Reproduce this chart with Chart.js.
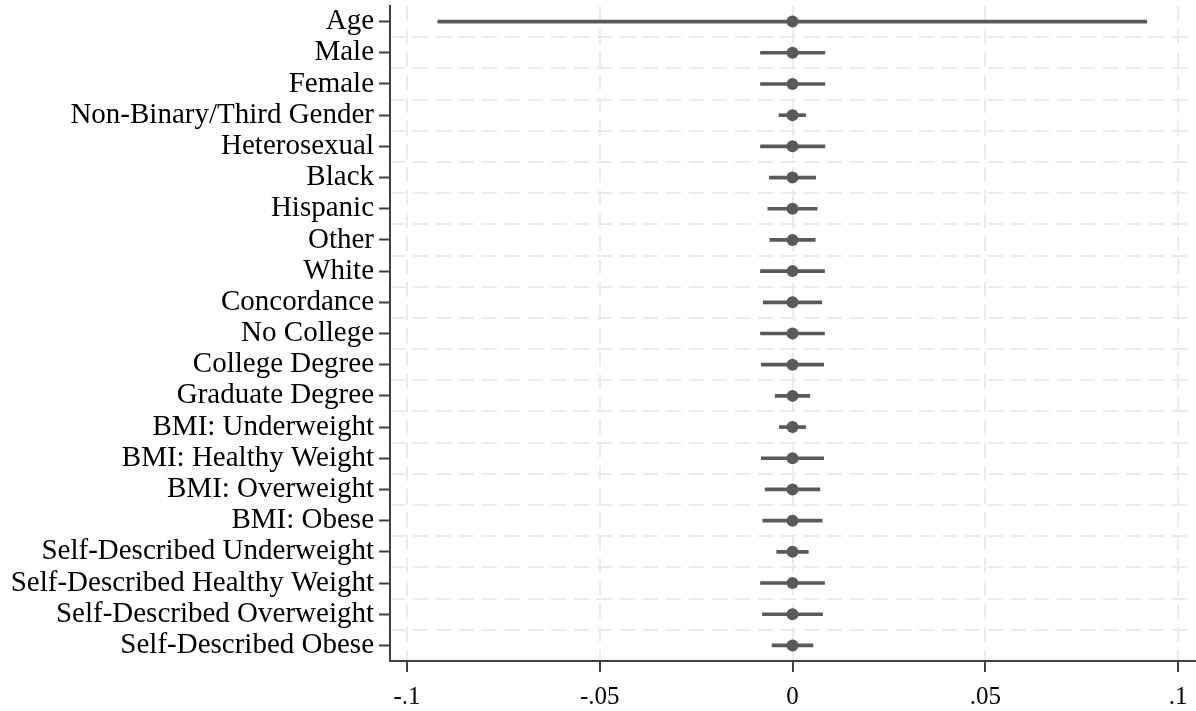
<!DOCTYPE html>
<html>
<head>
<meta charset="utf-8">
<script src="https://cdn.jsdelivr.net/npm/chart.js@4.4.1/dist/chart.umd.min.js"></script>
<style>
  html, body { margin: 0; padding: 0; background: #fff; }
  #wrap { width: 1196px; height: 711px; }
</style>
</head>
<body>
<div id="wrap"><canvas id="coefChart"></canvas></div>
<script>
// variables, top to bottom
const categories = [
  'Age', 'Male', 'Female', 'Non-Binary/Third Gender', 'Heterosexual',
  'Black', 'Hispanic', 'Other', 'White', 'Concordance',
  'No College', 'College Degree', 'Graduate Degree',
  'BMI: Underweight', 'BMI: Healthy Weight', 'BMI: Overweight', 'BMI: Obese',
  'Self-Described Underweight', 'Self-Described Healthy Weight',
  'Self-Described Overweight', 'Self-Described Obese'
];
// point estimates
const estimates = [0, 0, 0, 0, 0, 0, 0, 0, 0, 0, 0, 0, 0, 0, 0, 0, 0, 0, 0, 0, 0];
// confidence interval bounds
const ciLow = [-0.0920, -0.0083, -0.0083, -0.0035, -0.0083, -0.0060, -0.0064, -0.0059, -0.0083, -0.0076,
  -0.0083, -0.0081, -0.0045, -0.0034, -0.0081, -0.0071, -0.0077, -0.0041, -0.0083, -0.0078, -0.0053];
const ciHigh = [0.0919, 0.0084, 0.0084, 0.0034, 0.0084, 0.0060, 0.0064, 0.0059, 0.0083, 0.0076,
  0.0083, 0.0081, 0.0045, 0.0034, 0.0081, 0.0071, 0.0077, 0.0041, 0.0083, 0.0078, 0.0053];
const xTicks = [-0.1, -0.05, 0, 0.05, 0.1];

const fmt = v => {
  if (Math.abs(v) < 1e-9) return '0';
  return String(+v.toFixed(2)).replace('0.', '.');
};

const ink = '#5a5a5a';
const gridCol = '#ebebeb';
const axisCol = '#404040';
const serif = "'Liberation Serif', 'Times New Roman', serif";

const ctx = document.getElementById('coefChart').getContext('2d');
new Chart(ctx, {
  type: 'bar',
  data: {
    labels: categories,
    datasets: [{
      type: 'bar',
      data: categories.map((_, i) => [ciLow[i], ciHigh[i]]),
      backgroundColor: ink,
      barThickness: 3,
      borderSkipped: false,
      order: 2
    }, {
      type: 'line',
      data: estimates,
      showLine: false,
      pointRadius: 6,
      pointBackgroundColor: ink,
      pointBorderColor: ink,
      pointBorderWidth: 0,
      order: 1
    }]
  },
  options: {
    indexAxis: 'y',
    responsive: true,
    maintainAspectRatio: false,
    animation: false,
    layout: { autoPadding: false, padding: { top: 6, right: 1, left: 0, bottom: 0 } },
    plugins: {
      legend: { display: false },
      tooltip: { enabled: false }
    },
    scales: {
      x: {
        type: 'linear',
        min: -0.1044,
        max: 0.1044,
        afterBuildTicks: scale => { scale.ticks = xTicks.map(v => ({ value: v })); },
        afterFit: scale => { scale.height = 50; scale.paddingRight = 0; scale.paddingLeft = 0; },
        ticks: {
          color: '#000',
          font: { family: serif, size: 25 },
          padding: 10,
          callback: v => fmt(v)
        },
        grid: {
          color: gridCol,
          lineWidth: 2,
          tickColor: axisCol,
          tickLength: 11,
          tickWidth: 2
        },
        border: { display: true, color: axisCol, width: 2, dash: [15, 8] }
      },
      y: {
        type: 'category',
        offset: true,
        afterFit: scale => { scale.width = 390; scale.paddingTop = 0; scale.paddingBottom = 0; },
        ticks: {
          color: '#000',
          font: { family: serif, size: 29 },
          padding: 5,
          autoSkip: false
        },
        grid: {
          offset: false,
          drawOnChartArea: false,
          color: axisCol,
          tickLength: 11,
          tickWidth: 2
        },
        border: { display: true, color: axisCol, width: 2 }
      },
      yGrid: {
        type: 'category',
        position: 'left',
        labels: categories,
        offset: true,
        afterFit: scale => { scale.width = 0; scale.paddingTop = 0; scale.paddingBottom = 0; },
        ticks: { display: false },
        grid: {
          offset: true,
          drawTicks: false,
          color: c => (c.index === 0 ? 'rgba(0,0,0,0)' : gridCol),
          lineWidth: 2
        },
        border: { display: false, dash: [15, 8] }
      }
    }
  }
});
</script>
</body>
</html>
